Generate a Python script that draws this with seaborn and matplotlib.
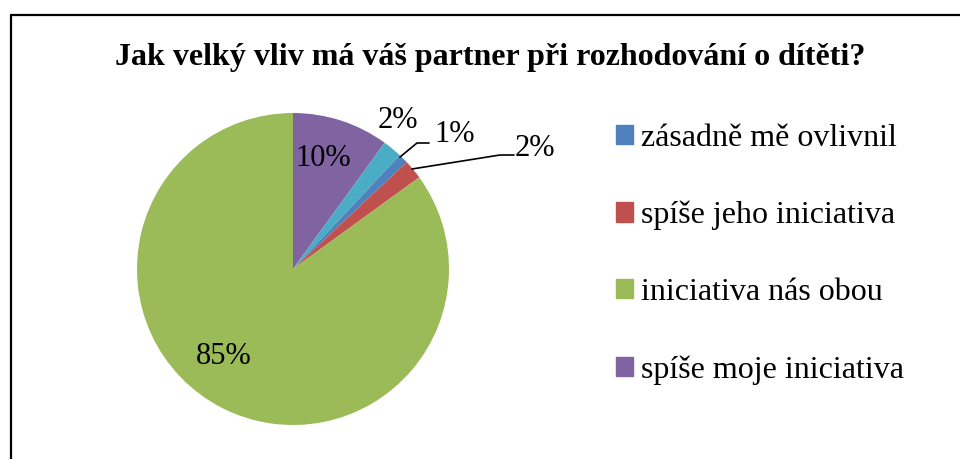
import matplotlib
matplotlib.use("Agg")
import matplotlib.pyplot as plt
import matplotlib.patches as mpatches
import seaborn as sns

### DATA ###
title = "Jak velký vliv má váš partner při rozhodování o dítěti?"
# slices in drawing order, clockwise from 12 o'clock
slice_names = ["spíše moje iniciativa", "", "zásadně mě ovlivnil", "spíše jeho iniciativa", "iniciativa nás obou"]
slice_values = [10, 2, 1, 2, 85]
slice_colors = ["#8064A2", "#4BACC6", "#4F81BD", "#C0504D", "#9BBB59"]
legend_order = ["zásadně mě ovlivnil", "spíše jeho iniciativa", "iniciativa nás obou", "spíše moje iniciativa"]

### STYLE ###
sns.set_style("white")
plt.rcParams['font.family'] = ['Liberation Serif', 'DejaVu Serif']
plt.rcParams['text.color'] = 'black'

fig = plt.figure(figsize=(9.6, 4.59), dpi=100)

# outer chart border (open at right and bottom, cut off by the image)
fig.add_artist(plt.Line2D([10.5 / 960, 10.5 / 960], [0, 1 - 14.5 / 459], transform=fig.transFigure, color="black", lw=1.6))
fig.add_artist(plt.Line2D([10.5 / 960, 1], [1 - 14.5 / 459, 1 - 14.5 / 459], transform=fig.transFigure, color="black", lw=1.6))

fig.text(490 / 960, 1 - 57 / 459, title, ha="center", va="center", fontsize=23, fontweight="bold")

# pie axes: centre (293, 269) px, radius 156 px
cx, cy, r = 293, 269, 156
ax = fig.add_axes([(cx - r) / 960, (459 - cy - r) / 459, 2 * r / 960, 2 * r / 459])
wedges, _ = ax.pie(slice_values, colors=slice_colors, startangle=90, counterclock=False,
                   wedgeprops=dict(linewidth=0))
ax.set_aspect("equal")
ax.set_xlim(-1, 1)
ax.set_ylim(-1, 1)

def px(x, y):
    return ((x - cx) / r, (cy - y) / r)

fs = 22
ax.text(*px(323, 158), "10%", ha="center", va="center", fontsize=fs, clip_on=False)
ax.text(*px(398, 120), "2%", ha="center", va="center", fontsize=fs, clip_on=False)
ax.text(*px(455, 134), "1%", ha="center", va="center", fontsize=fs, clip_on=False)
ax.text(*px(535, 149), "2%", ha="center", va="center", fontsize=fs, clip_on=False)
ax.text(*px(224, 357), "85%", ha="center", va="center", fontsize=fs, clip_on=False)

# leader lines
l1 = [px(400, 157), px(417, 143), px(429, 143)]
l2 = [px(412, 169), px(500, 155), px(514, 155)]
for pts in (l1, l2):
    ax.plot([p[0] for p in pts], [p[1] for p in pts], color="black", lw=1.2, clip_on=False)

# legend
handles = []
for name in legend_order:
    i = slice_names.index(name)
    handles.append(mpatches.Patch(color=slice_colors[i], label=name))
fig.legend(handles=handles, loc="upper left", bbox_to_anchor=(603 / 960, 1 - 111 / 459),
           frameon=False, fontsize=23, handlelength=0.55, handleheight=0.55, handletextpad=0.24,
           labelspacing=1.5, borderaxespad=0)

fig.savefig("out.png", dpi=100)
